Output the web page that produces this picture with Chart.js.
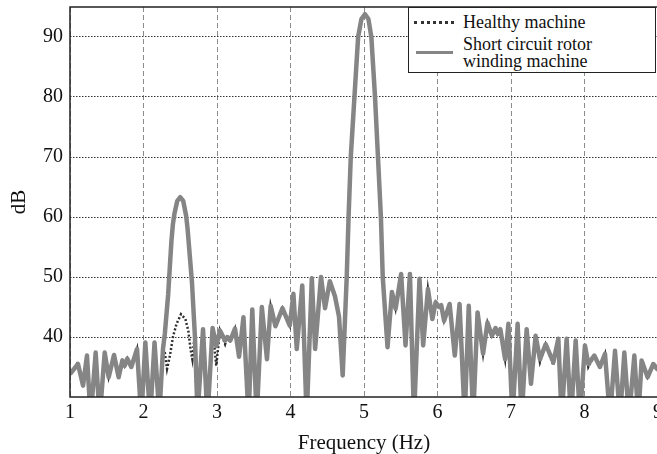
<!DOCTYPE html>
<html>
<head>
<meta charset="utf-8">
<script src="https://cdn.jsdelivr.net/npm/chart.js@4.4.0/dist/chart.umd.min.js"></script>
<style>
    html, body { margin: 0; padding: 0; overflow: hidden; background: #fff; }
    #wrap { position: relative; width: 700px; height: 454px; }
    #legend {
        position: absolute; left: 408px; top: 7px; width: 246px; height: 64px;
        border: 1px solid #222; background: #fff;
        font-family: "Liberation Serif", "Times New Roman", serif; font-size: 18px; color: #111;
    }
    #legend div { position: absolute; white-space: nowrap; line-height: 18px; }
    .sample { position: absolute; height: 0; }
</style>
</head>
<body>
<div id="wrap">
    <canvas id="chart" width="700" height="454"></canvas>
    <div id="legend">
        <span class="sample" style="left:5px; top:13px; width:40px; border-top:3px dotted #333;"></span>
        <div style="left:54px; top:5px;">Healthy machine</div>
        <span class="sample" style="left:7px; top:43px; width:37px; border-top:3px solid #858585;"></span>
        <div style="left:54px; top:27px;">Short circuit rotor</div>
        <div style="left:54px; top:44px;">winding machine</div>
    </div>
</div>
<script>
// short circuit rotor winding machine
const faultFreq = [
    1.00, 1.109, 1.177, 1.231, 1.281, 1.349, 1.404, 1.472, 1.526, 1.599,
    1.662, 1.712, 1.744, 1.780, 1.834, 1.912, 1.970, 2.025, 2.090, 2.150,
    2.215, 2.265, 2.290, 2.335, 2.360, 2.380, 2.400, 2.420, 2.460, 2.500,
    2.540, 2.580, 2.600, 2.620, 2.660, 2.700, 2.735, 2.810, 2.870, 2.940,
    2.990, 3.040, 3.110, 3.140, 3.180, 3.245, 3.300, 3.360, 3.430, 3.480,
    3.540, 3.610, 3.680, 3.730, 3.795, 3.890, 3.990, 4.040, 4.085, 4.160,
    4.220, 4.290, 4.335, 4.415, 4.470, 4.535, 4.605, 4.660, 4.710, 4.765,
    4.790, 4.820, 4.870, 4.920, 4.965, 5.012, 5.060, 5.100, 5.150, 5.190,
    5.230, 5.255, 5.320, 5.380, 5.430, 5.505, 5.565, 5.625, 5.680, 5.755,
    5.805, 5.870, 5.930, 5.975, 6.020, 6.050, 6.090, 6.165, 6.235, 6.300,
    6.370, 6.425, 6.485, 6.545, 6.620, 6.680, 6.740, 6.790, 6.820, 6.855,
    6.920, 6.965, 7.020, 7.090, 7.145, 7.213, 7.272, 7.335, 7.394, 7.471,
    7.576, 7.644, 7.689, 7.757, 7.816, 7.880, 7.938, 8.006, 8.052, 8.133,
    8.210, 8.279, 8.347, 8.415, 8.483, 8.542, 8.605, 8.678, 8.732, 8.777,
    8.859, 8.936, 9.000
]
const faultDb = [
    33.8, 35.5, 31.9, 36.9, 26.5, 37.4, 26.5, 37.4, 33.3, 37.0,
    33.3, 36.1, 35.2, 36.4, 35.0, 38.0, 26.5, 39.1, 26.5, 39.1,
    27.0, 38.0, 40.5, 47.0, 52.0, 56.0, 58.8, 60.5, 62.7, 63.3,
    62.7, 60.2, 58.0, 55.0, 49.0, 40.0, 27.0, 41.3, 26.5, 41.5,
    38.5, 41.1, 39.4, 40.0, 39.4, 41.4, 36.7, 43.3, 26.5, 44.6,
    26.5, 45.0, 36.3, 45.2, 41.8, 44.8, 41.9, 47.2, 38.0, 48.6,
    26.5, 49.8, 38.0, 50.0, 44.8, 49.3, 46.8, 43.4, 33.6, 50.0,
    60.0, 70.0, 80.0, 90.0, 93.0, 93.8, 93.0, 90.0, 80.0, 70.0,
    60.0, 50.0, 38.3, 47.5, 44.7, 50.5, 38.6, 50.5, 26.5, 49.7,
    38.6, 48.0, 43.0, 45.8, 45.0, 45.3, 42.7, 45.5, 36.9, 45.5,
    26.5, 45.2, 26.5, 44.1, 37.2, 42.4, 40.2, 41.5, 40.5, 41.3,
    36.3, 42.2, 26.5, 42.2, 26.5, 41.3, 32.2, 40.2, 36.3, 38.8,
    35.8, 39.7, 26.5, 39.7, 26.5, 39.4, 26.5, 38.6, 35.5, 36.9,
    35.0, 37.2, 26.5, 37.7, 26.5, 37.4, 26.5, 36.9, 26.5, 36.1,
    33.3, 35.5, 34.5
]

// healthy machine
const healthyFreq = [
    1.00, 1.109, 1.177, 1.231, 1.281, 1.349, 1.404, 1.472, 1.526, 1.599,
    1.662, 1.712, 1.744, 1.780, 1.834, 1.912, 1.970, 2.025, 2.090, 2.150,
    2.215, 2.265, 2.290, 2.320, 2.360, 2.400, 2.450, 2.510, 2.570, 2.610,
    2.640, 2.665, 2.690, 2.735, 2.810, 2.870, 2.940, 2.990, 3.040, 3.110,
    3.140, 3.180, 3.245, 3.300, 3.360, 3.430, 3.480, 3.540, 3.610, 3.680,
    3.730, 3.795, 3.890, 3.990, 4.040, 4.085, 4.160, 4.220, 4.290, 4.335,
    4.415, 4.470, 4.535, 4.605, 4.660, 4.710, 4.765, 4.790, 4.820, 4.870,
    4.920, 4.965, 5.012, 5.060, 5.100, 5.150, 5.190, 5.230, 5.255, 5.320,
    5.380, 5.430, 5.505, 5.565, 5.625, 5.680, 5.755, 5.805, 5.870, 5.930,
    5.975, 6.020, 6.050, 6.090, 6.165, 6.235, 6.300, 6.370, 6.425, 6.485,
    6.545, 6.620, 6.680, 6.740, 6.790, 6.820, 6.855, 6.920, 6.965, 7.020,
    7.090, 7.145, 7.213, 7.272, 7.335, 7.394, 7.471, 7.576, 7.644, 7.689,
    7.757, 7.816, 7.880, 7.938, 8.006, 8.052, 8.133, 8.210, 8.279, 8.347,
    8.415, 8.483, 8.542, 8.605, 8.678, 8.732, 8.777, 8.859, 8.936, 9.000
]
const healthyDb = [
    33.8, 35.8, 31.9, 36.9, 26.5, 37.4, 26.5, 37.4, 33.3, 37.0,
    33.3, 36.1, 35.2, 36.4, 35.0, 38.0, 26.5, 39.1, 26.5, 39.1,
    27.0, 38.0, 37.4, 34.7, 36.9, 40.0, 42.2, 43.8, 43.0, 41.0,
    38.0, 36.3, 39.5, 27.0, 41.3, 26.5, 41.5, 35.2, 41.1, 38.8,
    40.0, 39.4, 41.4, 36.7, 43.3, 26.5, 44.6, 26.5, 45.0, 36.3,
    45.2, 41.8, 44.8, 41.9, 47.2, 38.0, 48.6, 26.5, 49.8, 38.0,
    50.0, 44.8, 49.3, 46.8, 43.4, 33.6, 50.0, 60.0, 70.0, 80.0,
    90.0, 93.0, 93.8, 93.0, 90.0, 80.0, 70.0, 60.0, 50.0, 38.3,
    47.5, 44.7, 50.5, 38.6, 50.5, 26.5, 49.7, 38.6, 48.0, 43.0,
    45.8, 45.0, 45.3, 42.7, 45.5, 36.9, 45.5, 26.5, 45.2, 26.5,
    44.1, 37.2, 42.4, 40.2, 41.5, 40.5, 41.3, 36.3, 42.2, 26.5,
    42.2, 26.5, 41.3, 32.2, 40.2, 35.8, 38.8, 35.3, 39.7, 26.5,
    39.7, 26.5, 39.4, 26.5, 38.6, 35.0, 36.9, 35.0, 37.2, 26.5,
    37.7, 26.5, 37.4, 26.5, 36.9, 26.5, 36.1, 33.3, 35.5, 34.5
]

const xTicks = [1, 2, 3, 4, 5, 6, 7, 8, 9]
const yTicks = [40, 50, 60, 70, 80, 90]

function toPoints(xs, ys) {
    return xs.map((x, i) => ({x: x, y: ys[i]}))
}

// black box round the plot area
const frame = {
    id: 'frame',
    afterDatasetsDraw(chart) {
        const {ctx, chartArea: a} = chart
        ctx.save()
        ctx.strokeStyle = '#222'
        ctx.lineWidth = 1.5
        ctx.strokeRect(a.left, a.top, a.right - a.left, a.bottom - a.top)
        ctx.restore()
    }
}

const serif = '"Liberation Serif", "Times New Roman", serif'

new Chart(document.getElementById('chart'), {
    type: 'line',
    data: {
        datasets: [
            {
                label: 'Healthy machine',
                data: toPoints(healthyFreq, healthyDb),
                borderColor: '#2e2e2e',
                borderWidth: 2.5,
                borderDash: [2, 2],
                pointRadius: 0,
                tension: 0,
                order: 1
            },
            {
                label: 'Short circuit rotor winding machine',
                data: toPoints(faultFreq, faultDb),
                borderColor: '#858585',
                borderWidth: 4.5,
                borderJoinStyle: 'round',
                pointRadius: 0,
                tension: 0,
                order: 0
            }
        ]
    },
    options: {
        responsive: false,
        animation: false,
        layout: {padding: {top: 7, right: 42, left: 0, bottom: 0}},
        plugins: {legend: {display: false}, tooltip: {enabled: false}},
        scales: {
            x: {
                type: 'linear',
                min: 1,
                max: 9,
                afterBuildTicks: (scale) => { scale.ticks = xTicks.map((v) => ({value: v})) },
                afterFit: (scale) => {
                    scale.height = 57
                    scale.paddingLeft = 0
                    scale.paddingRight = 0
                },
                border: {display: false, dash: [5, 3]},
                grid: {color: '#8a8a8a', lineWidth: 1, drawTicks: false},
                ticks: {padding: 4, color: '#111', font: {family: serif, size: 20}},
                title: {display: true, text: 'Frequency (Hz)', color: '#111',
                        font: {family: serif, size: 21, lineHeight: 1}, padding: {top: 0, bottom: 0}}
            },
            y: {
                min: 30,
                max: 95,
                afterBuildTicks: (scale) => { scale.ticks = yTicks.map((v) => ({value: v})) },
                afterFit: (scale) => {
                    scale.width = 70
                    scale.paddingTop = 0
                    scale.paddingBottom = 0
                },
                border: {display: false, dash: [1.5, 1.5]},
                grid: {color: '#333', lineWidth: 1, drawTicks: false},
                ticks: {padding: 7, color: '#111', font: {family: serif, size: 20}},
                title: {display: true, text: 'dB', color: '#111',
                        font: {family: serif, size: 21, lineHeight: 1}, padding: {top: 9, bottom: 0}}
            }
        }
    },
    plugins: [frame]
})
</script>
</body>
</html>
